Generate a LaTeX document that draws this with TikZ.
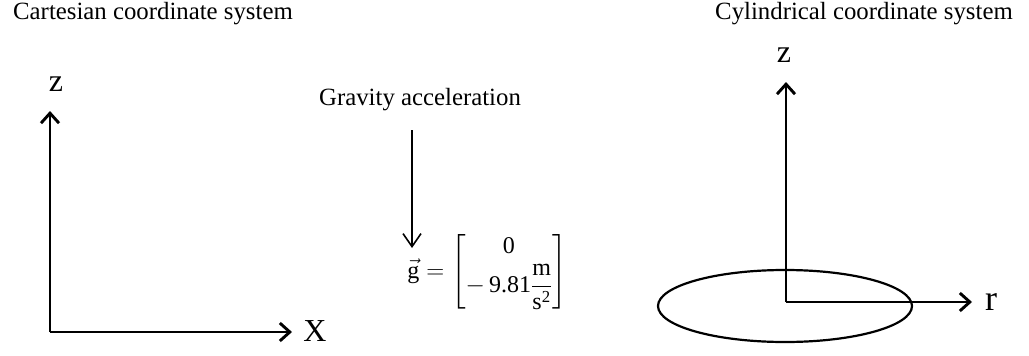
\documentclass[tikz,border=0pt]{standalone}
\usepackage{amsmath}
\usepackage{fontspec}
\setmainfont{Liberation Serif}
\usetikzlibrary{arrows.meta,shapes.geometric}
\tikzset{
  axis/.style={line width=2.9pt, -{Straight Barb[length=10pt,width=18pt,line width=2.9pt]}},
  thinarrow/.style={line width=1.6pt, -{Straight Barb[length=13pt,width=18pt,line width=1.6pt]}},
  title/.style={font=\fontsize{24.8}{28}\selectfont, inner sep=0pt},
  axlabel/.style={font=\fontsize{32}{34}\selectfont, inner sep=0pt},
}
\begin{document}
\begin{tikzpicture}[x=1pt,y=-1pt]
\useasboundingbox (0,0) rectangle (1029,356);
% titles
\node[title] (ctitle) at (153,14) {Cartesian coordinate system};
\node[title] (ytitle) at (864,14) {Cylindrical coordinate system};
\node[title] (gtitle) at (420,100) {Gravity acceleration};
% Cartesian axes
\coordinate (co) at (50,332);
\coordinate (cz) at (50,111);
\coordinate (cx) at (292,332);
\draw[axis] (co) -- (cz);
\draw[axis] (co) -- (cx);
\node[axlabel] (lz) at (56,84) {z};
\node[axlabel] (lx) at (315,331) {X};
% gravity
\coordinate (gs) at (412,130);
\coordinate (ge) at (412,248);
\draw[thinarrow] (gs) -- (ge);
\node[font=\fontsize{24}{28}\selectfont, inner sep=0pt] (eq) at (487,272)
  {$\vec{\text{g}}=\begin{bmatrix}\text{0}\\[2pt]-\,\text{9.81}\dfrac{\text{m}}{\text{s}^{\text{2}}}\end{bmatrix}$};
% cylindrical
\node[draw, line width=2.2pt, ellipse, minimum width=254pt, minimum height=72pt, inner sep=0pt] (ell) at (785,306) {};
\coordinate (yo) at (786,302);
\coordinate (yz) at (786,82);
\coordinate (yr) at (972,302);
\draw[axis] (yo) -- (yz);
\draw[axis] (yo) -- (yr);
\node[axlabel] (lz2) at (784,55) {z};
\node[font=\fontsize{36}{40}\selectfont, inner sep=0pt] (lr) at (991,302) {r};
\end{tikzpicture}
\end{document}
